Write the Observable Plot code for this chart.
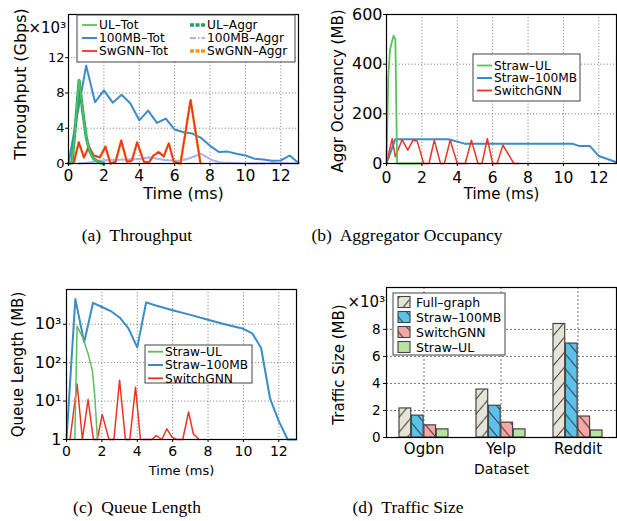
<!DOCTYPE html>
<html><head><meta charset="utf-8">
<script src="https://cdn.jsdelivr.net/npm/d3@7"></script>
<script src="https://cdn.jsdelivr.net/npm/@observablehq/plot@0.6"></script>
<style>
body{margin:0;background:#fff;}
#root{position:relative;width:617px;height:521px;overflow:hidden;background:#fff;}
.cap{position:absolute;font-family:"Liberation Serif","Times New Roman",serif;font-size:17.5px;line-height:17.5px;white-space:pre;text-align:center;width:300px;color:#000;}
</style></head><body><div id="root"></div>
<script>
// ---------- (a) Throughput (x10^3 Gbps) ----------
const aTimeUL = [0, 0.2, 0.4, 0.6, 0.8, 1.0, 1.2, 1.4, 1.6, 1.8, 2.0];
const aULTot  = [0, 0.1, 4.5, 9.5, 6.0, 3.0, 1.4, 0.6, 0.3, 0.1, 0];
const aULAggr = [0, 0.1, 4.5, 9.4, 6.0, 3.0, 1.4, 0.6, 0.3, 0.1, 0];
const aTime100 = [0, 1, 1.5, 2, 2.5, 3, 3.5, 4, 4.5, 5, 5.5, 6, 6.5, 7, 7.5, 8, 8.5, 9, 9.5, 10, 10.5, 11, 11.5, 12, 12.5, 13];
const a100Tot  = [0, 11.1, 6.95, 8.3, 6.9, 7.8, 6.8, 4.9, 6.0, 4.6, 5.1, 3.85, 3.55, 3.4, 2.9, 2.0, 1.3, 1.35, 1.1, 0.9, 0.55, 0.45, 0.3, 0.35, 0.9, 0.05];
const aTime100Aggr = [0.6, 1.2, 1.6, 2.4, 3.3, 3.9, 4.6, 5.4, 6.2, 6.7, 7.5, 8.1, 8.6, 10.3, 12, 13];
const a100Aggr     = [0, 0.1, 0.3, 0.4, 0.45, 0.5, 0.7, 0.4, 0.3, 0.5, 1.1, 0.4, 0.1, 0, 0.05, 0];
const aTimeSw = [0, 0.3, 0.58, 0.87, 1.15, 1.43, 1.77, 2.09, 2.37, 2.66, 2.98, 3.3, 3.58, 3.88, 4.26, 4.54, 4.8, 5.1, 5.38, 5.67, 5.95, 6.33, 6.9, 7.46];
const aSwTot  = [0, 0.1, 2.4, 0.7, 1.9, 0.9, 0.7, 1.9, 0, 0.2, 2.6, 0.2, 0.3, 2.4, 0.2, 0.1, 0.9, 1.3, 0.8, 2.3, 0.2, 0, 7.2, 0];
const aSwAggr = [0, 0.1, 2.4, 0.7, 1.9, 0.9, 0.7, 1.9, 0, 0.2, 2.6, 0.2, 0.3, 2.4, 0.2, 0.1, 0.9, 1.3, 0.8, 2.3, 0.2, 0, 7.2, 0];
const aSeries = ["UL\u2013Tot", "100MB\u2013Tot", "SwGNN\u2013Tot", "UL\u2013Aggr", "100MB\u2013Aggr", "SwGNN\u2013Aggr"];
const aXTicks = [0, 2, 4, 6, 8, 10, 12];
const aYTicks = [0, 4, 8, 12];

// ---------- (b) Aggregator occupancy (MB) ----------
const bTimeUL = [0, 0.1, 0.2, 0.4, 0.5, 0.6, 2.0];
const bUL     = [0, 350, 460, 515, 500, 0, 0];
const bTime100 = [0, 0.5, 3.5, 4.0, 4.4, 10.5, 10.9, 11.5, 12, 13];
const b100     = [0, 98, 98, 88, 80, 80, 70, 70, 30, 5];
const bTimeSw = [0, 0.32, 0.5, 0.88, 1.2, 1.5, 1.73, 2.1, 2.4, 2.7, 3.05, 3.27, 3.6, 4.0, 4.45, 4.8, 5.17, 5.4, 5.7, 6.0, 6.25, 6.58, 7.2, 7.46];
const bSw     = [0, 100, 27, 96, 54, 94, 91, 0, 0, 94, 0, 0, 94, 0, 0, 94, 0, 0, 100, 0, 0, 74, 0, 0];
const bSeries = ["Straw\u2013UL", "Straw\u2013100MB", "SwitchGNN"];
const bYTicks = [0, 200, 400, 600];

// ---------- (c) Queue length (MB, log) ----------
const cTime100 = [0, 0.5, 1.0, 1.5, 2.0, 2.5, 3.0, 3.5, 4.0, 4.5, 5, 6, 7, 8, 9, 10, 10.5, 11, 11.5, 12, 12.5, 13];
const c100     = [1, 4500, 340, 3600, 2800, 2200, 1500, 780, 250, 3700, 3100, 2300, 1750, 1300, 980, 760, 580, 240, 12, 3, 1, 1];
const cTimeUL = [0.47, 0.6, 0.9, 1.22, 1.46, 1.6, 1.75];
const cUL     = [1, 880, 470, 170, 63, 13, 1];
const cTimeSw = [0.2, 0.6, 0.9, 1.22, 1.52, 1.74, 2.02, 2.4, 2.68, 3.0, 3.33, 3.58, 3.9, 4.18, 4.83, 5.07, 5.39, 5.67, 5.96, 6.24, 6.57, 6.9, 7.17, 7.5];
const cSw     = [1, 28, 1, 11, 1, 1, 4.5, 1, 1, 35, 1, 1, 23, 1, 1, 1.27, 1, 1.9, 1.15, 1, 1, 5.2, 1.4, 1];
const cYTicks = [1, 10, 100, 1000];

// ---------- (d) Traffic size (x10^3 MB) ----------
const dDatasets = ["Ogbn", "Yelp", "Reddit"];
const dSeries = ["Full\u2013graph", "Straw\u2013100MB", "SwitchGNN", "Straw\u2013UL"];
const dFull  = [2.15, 3.55, 8.4];
const d100MB = [1.62, 2.35, 6.95];
const dSw    = [0.9, 1.1, 1.55];
const dUL    = [0.6, 0.6, 0.52];
const dYTicks = [0, 2, 4, 6, 8];

const captions = ["(a)  Throughput", "(b)  Aggregator Occupancy", "(c)  Queue Length", "(d)  Traffic Size"];

// ---------- helpers ----------
const root = document.getElementById("root");
const font = "'DejaVu Sans', 'Bitstream Vera Sans', sans-serif";
const gridStyle = {stroke: "#555", strokeOpacity: 1, strokeWidth: 0.8, strokeDasharray: "1,2.2"};
const zip = (xs, ys) => xs.map((x, i) => ({x, y: ys[i]}));
function place(node, left, top) {
  node.style.position = "absolute"; node.style.left = left + "px"; node.style.top = top + "px";
  root.appendChild(node);
}
function lineLegend(svg, box, items, fontSize) {
  const g = d3.select(svg).append("g").attr("font-family", font).attr("font-size", fontSize).attr("text-anchor", "start");
  g.append("rect").attr("x", box.x).attr("y", box.y).attr("width", box.w).attr("height", box.h)
    .attr("fill", "#fff").attr("stroke", "#444").attr("stroke-width", 1);
  for (const it of items) {
    g.append("line").attr("x1", it.x).attr("x2", it.x + 15).attr("y1", it.y).attr("y2", it.y)
      .attr("stroke", it.color).attr("stroke-width", it.width).attr("stroke-dasharray", it.dash || null);
    g.append("text").attr("x", it.x + 17).attr("y", it.y).attr("dy", "0.36em").attr("fill", "#000").attr("text-anchor", "start").text(it.label);
  }
}
const COL = {green: "#5cc05a", dgreen: "#23a06a", blue: "#3a8cc6", lav: "#a8b3f0", red: "#ec3426", orange: "#f7951f"};
const yLab = {frameAnchor: "left", rotate: -90, textAnchor: "middle", lineAnchor: "middle"};

// ---------- panel (a) ----------
const svgA = Plot.plot({
  width: 310, height: 210, marginLeft: 68, marginRight: 12, marginTop: 14, marginBottom: 47,
  style: {fontFamily: font, background: "transparent", overflow: "visible"},
  x: {domain: [0, 13]},
  y: {domain: [0, 16.9]},
  marks: [
    Plot.gridX({ticks: aXTicks.slice(1), ...gridStyle}),
    Plot.gridY({ticks: aYTicks.slice(1), ...gridStyle}),
    Plot.line(zip(aTime100, a100Tot), {x: "x", y: "y", stroke: COL.blue, strokeWidth: 2}),
    Plot.line(zip(aTime100Aggr, a100Aggr), {x: "x", y: "y", stroke: COL.lav, strokeWidth: 2.2, strokeDasharray: "6,2,1.5,2"}),
    Plot.line(zip(aTimeSw, aSwAggr), {x: "x", y: "y", stroke: COL.orange, strokeWidth: 2.6, strokeDasharray: "3,2"}),
    Plot.line(zip(aTimeSw, aSwTot), {x: "x", y: "y", stroke: COL.red, strokeWidth: 1.6}),
    Plot.line(zip(aTimeUL, aULAggr), {x: "x", y: "y", stroke: COL.dgreen, strokeWidth: 3.2, strokeDasharray: "4,1.5"}),
    Plot.line(zip(aTimeUL, aULTot), {x: "x", y: "y", stroke: COL.green, strokeWidth: 1.5}),
    Plot.frame({stroke: "#000", strokeWidth: 1.2}),
    Plot.axisX({ticks: aXTicks, tickSize: 3, tickPadding: 3, fontSize: 15.5, label: null}),
    Plot.axisY({ticks: aYTicks, tickSize: 3, tickPadding: 1, fontSize: 13, label: null}),
    Plot.text(["Time (ms)"], {text: d => d, frameAnchor: "bottom", dy: 30, fontSize: 16, lineAnchor: "middle"}),
    Plot.text(["Throughput (Gbps)"], {text: d => d, ...yLab, dx: -48, dy: -5, fontSize: 16}),
    Plot.text(["\u00d710\u00b3"], {text: d => d, frameAnchor: "top-left", dx: -40, dy: 14, fontSize: 15, textAnchor: "start", lineAnchor: "middle"})
  ]
});
lineLegend(svgA, {x: 77, y: 15, w: 218, h: 47}, [
  {label: aSeries[0], color: COL.green, width: 1.8, x: 82, y: 25},
  {label: aSeries[1], color: COL.blue, width: 2, x: 82, y: 38},
  {label: aSeries[2], color: COL.red, width: 1.8, x: 82, y: 51},
  {label: aSeries[3], color: COL.dgreen, width: 3.5, dash: "4,1.5", x: 190, y: 25},
  {label: aSeries[4], color: COL.lav, width: 2.2, dash: "6,2,1.5,2", x: 190, y: 38},
  {label: aSeries[5], color: COL.orange, width: 3.5, dash: "4,1.5", x: 190, y: 51}
], 12.2);
place(svgA, 0, 0);

// ---------- panel (b) ----------
const svgB = Plot.plot({
  width: 307, height: 210, marginLeft: 76, marginRight: 1, marginTop: 14, marginBottom: 47,
  style: {fontFamily: font, background: "transparent", overflow: "visible"},
  x: {domain: [0, 13]},
  y: {domain: [0, 600]},
  marks: [
    Plot.gridX({ticks: aXTicks.slice(1), ...gridStyle}),
    Plot.gridY({ticks: [200, 400], ...gridStyle}),
    Plot.line(zip(bTime100, b100), {x: "x", y: "y", stroke: COL.blue, strokeWidth: 2}),
    Plot.line(zip(bTimeSw, bSw), {x: "x", y: "y", stroke: COL.red, strokeWidth: 1.5}),
    Plot.line(zip(bTimeUL, bUL), {x: "x", y: "y", stroke: COL.green, strokeWidth: 1.8}),
    Plot.frame({stroke: "#000", strokeWidth: 1.2}),
    Plot.axisX({ticks: aXTicks, tickSize: 3, tickPadding: 5, fontSize: 15.5, label: null}),
    Plot.axisY({ticks: bYTicks, tickSize: 3, tickPadding: 1, fontSize: 16, label: null}),
    Plot.text(["Time (ms)"], {text: d => d, frameAnchor: "bottom", dy: 31, fontSize: 15, lineAnchor: "middle"}),
    Plot.text(["Aggr Occupancy (MB)"], {text: d => d, ...yLab, dx: -48, dy: 2, fontSize: 15})
  ]
});
lineLegend(svgB, {x: 163, y: 54, w: 107, h: 47}, [
  {label: bSeries[0], color: COL.green, width: 1.8, x: 167, y: 65.5},
  {label: bSeries[1], color: COL.blue, width: 2, x: 167, y: 78},
  {label: bSeries[2], color: COL.red, width: 1.8, x: 167, y: 90.5}
], 12.2);
place(svgB, 310, 0);

// ---------- panel (c) ----------
const sup = {"0": "\u2070", "1": "\u00b9", "2": "\u00b2", "3": "\u00b3"};
const svgC = Plot.plot({
  width: 310, height: 210, marginLeft: 66, marginRight: 14, marginTop: 19, marginBottom: 41,
  style: {fontFamily: font, background: "transparent", overflow: "visible"},
  x: {domain: [0, 13]},
  y: {type: "log", domain: [1, 8000]},
  marks: [
    Plot.gridX({ticks: aXTicks.slice(1), ...gridStyle}),
    Plot.gridY({ticks: cYTicks.slice(1), ...gridStyle}),
    Plot.line(zip(cTime100, c100), {x: "x", y: "y", stroke: COL.blue, strokeWidth: 2}),
    Plot.line(zip(cTimeSw, cSw), {x: "x", y: "y", stroke: COL.red, strokeWidth: 1.5}),
    Plot.line(zip(cTimeUL, cUL), {x: "x", y: "y", stroke: COL.green, strokeWidth: 1.5}),
    Plot.frame({stroke: "#000", strokeWidth: 1.2}),
    Plot.axisX({ticks: aXTicks, tickSize: 3, tickPadding: 4, fontSize: 14, label: null}),
    Plot.axisY({ticks: cYTicks, tickSize: 3, tickPadding: 2, fontSize: 16, label: null,
      tickFormat: d => d === 1 ? "1" : "10" + sup[String(Math.round(Math.log10(d)))]}),
    Plot.text(["Time (ms)"], {text: d => d, frameAnchor: "bottom", dy: 31, fontSize: 13, lineAnchor: "middle"}),
    Plot.text(["Queue Length (MB)"], {text: d => d, ...yLab, dx: -48.5, dy: 0, fontSize: 15})
  ]
});
lineLegend(svgC, {x: 145, y: 75, w: 107, h: 38}, [
  {label: bSeries[0], color: COL.green, width: 1.8, x: 148, y: 81.7},
  {label: bSeries[1], color: COL.blue, width: 2, x: 148, y: 95},
  {label: bSeries[2], color: COL.red, width: 1.8, x: 148, y: 108.3}
], 12.2);
place(svgC, 0, 270);

// ---------- panel (d) ----------
const pI = 0.36, pO = 0.16, dLeft = 76, dRight = 1, dW = 307;
const step = (dW - dLeft - dRight) / (dDatasets.length - pI + 2 * pO);
const bw = step * (1 - pI);
const dVals = [dFull, d100MB, dSw, dUL];
const dFills = ["url(#hatchFull)", "url(#hatch100)", "url(#hatchSw)", "#b9e39c"];
const svgD = Plot.plot({
  width: dW, height: 210, marginLeft: dLeft, marginRight: dRight, marginTop: 17, marginBottom: 43,
  style: {fontFamily: font, background: "transparent", overflow: "visible"},
  x: {type: "band", domain: dDatasets, paddingInner: pI, paddingOuter: pO},
  y: {domain: [0, 11.1]},
  marks: [
    Plot.gridX({...gridStyle, strokeDasharray: "2,2"}),
    Plot.gridY({ticks: dYTicks.slice(1), ...gridStyle, strokeDasharray: "2,2"}),
    ...dVals.map((vals, i) => Plot.barY(dDatasets.map((d, j) => ({dataset: d, value: vals[j]})), {
      x: "dataset", y: "value", fill: dFills[i], stroke: "#444", strokeWidth: 1.2,
      insetLeft: i * bw / 4, insetRight: (3 - i) * bw / 4
    })),
    Plot.frame({stroke: "#000", strokeWidth: 1.2}),
    Plot.axisX({tickSize: 0, tickPadding: 6, fontSize: 15, label: null}),
    Plot.axisY({ticks: dYTicks, tickSize: 3, tickPadding: 3, fontSize: 13.5, label: null}),
    Plot.text(["Dataset"], {text: d => d, frameAnchor: "bottom", dy: 32.5, fontSize: 14, lineAnchor: "middle"}),
    Plot.text(["Traffic Size (MB)"], {text: d => d, ...yLab, dx: -47, dy: 2, fontSize: 15}),
    Plot.text(["\u00d710\u00b3"], {text: d => d, frameAnchor: "top-left", dx: -39, dy: 15, fontSize: 15, textAnchor: "start", lineAnchor: "middle"})
  ]
});
// hatch patterns
const defs = d3.select(svgD).insert("defs", ":first-child");
function hatch(id, bg, forward) {
  const pw = 12.4, ph = 15;
  const p = defs.append("pattern").attr("id", id).attr("patternUnits", "userSpaceOnUse").attr("width", pw).attr("height", ph);
  p.append("rect").attr("width", pw).attr("height", ph).attr("fill", bg);
  p.append("path").attr("d", forward ? `M0,${ph} L${pw},0 M${-pw},${ph} L0,0 M${pw},${2*ph} L${2*pw},${ph}` : `M0,0 L${pw},${ph} M${-pw},0 L0,${ph} M${pw},${-ph} L${2*pw},0`)
    .attr("stroke", "#333").attr("stroke-width", 1);
}
hatch("hatchFull", "#e6e4d6", true);
hatch("hatch100", "#5cc2ec", false);
hatch("hatchSw", "#f6a6a4", false);
{
  const g = d3.select(svgD).append("g").attr("font-family", font).attr("font-size", 12.5).attr("text-anchor", "start");
  g.append("rect").attr("x", 83).attr("y", 23).attr("width", 112).attr("height", 62).attr("fill", "#fff").attr("stroke", "#444");
  dSeries.forEach((s, i) => {
    const yy = 32 + i * 15;
    g.append("rect").attr("x", 88).attr("y", yy - 5.5).attr("width", 12).attr("height", 11).attr("fill", dFills[i]).attr("stroke", "#444").attr("stroke-width", 1.1);
    g.append("text").attr("x", 106).attr("y", yy).attr("dy", "0.36em").attr("text-anchor", "start").text(s);
  });
}
place(svgD, 310, 270);

// ---------- captions ----------
[[137, 227], [407, 227], [137, 499], [408, 499]].forEach(([cx, top], i) => {
  const d = document.createElement("div");
  d.className = "cap"; d.textContent = captions[i];
  d.style.left = (cx - 150) + "px"; d.style.top = top + "px";
  root.appendChild(d);
});
</script></body></html>
